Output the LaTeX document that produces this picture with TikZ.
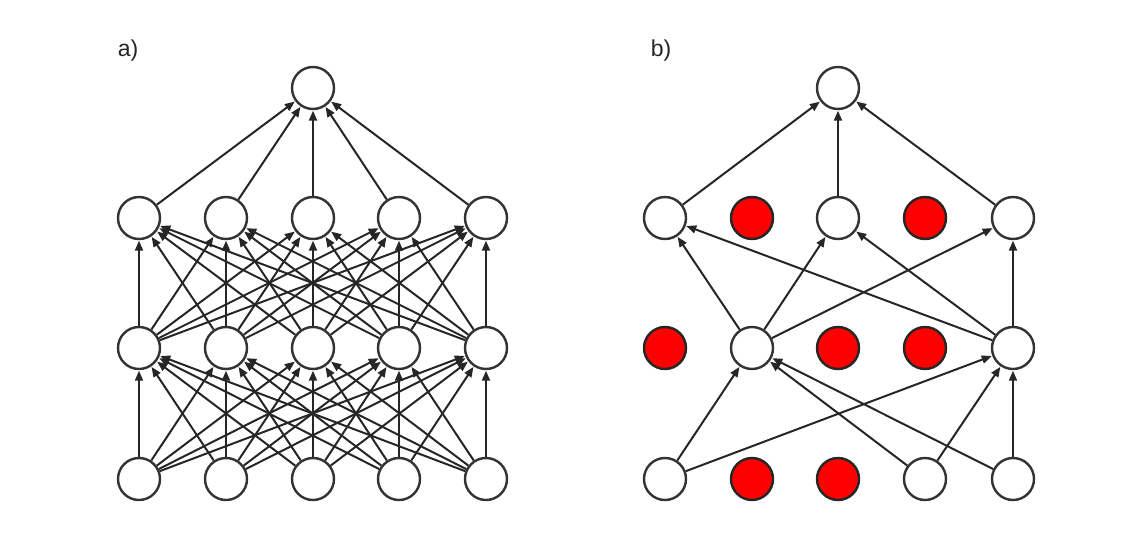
\documentclass[tikz,border=0pt]{standalone}
\usepackage{fontspec}
\setmainfont{Liberation Sans}
\usetikzlibrary{arrows.meta}
\begin{document}
\begin{tikzpicture}[x=1pt,y=-1pt,
  neuron/.style={circle,draw=black!80,line width=2.4pt,fill=white,minimum size=42pt,inner sep=0pt},
  dropped/.style={neuron,fill=red,draw=black!85},
  conn/.style={line width=2pt,draw=black!85,-{Triangle[length=10pt,width=8pt]},shorten >=0.5pt},
  lbl/.style={font=\fontsize{23}{27}\selectfont,text=black!85}]
\useasboundingbox (0,0) rectangle (1133,552);
% panel a
\node[lbl] (la) at (128,51) {a)};
\node[neuron] (ao) at (313,88) {};
\foreach \i/\x in {1/139,2/226,3/313,4/399,5/486}{
  \node[neuron] (ah\i) at (\x,218) {};
  \node[neuron] (ag\i) at (\x,348) {};
  \node[neuron] (ai\i) at (\x,479) {};
}
\foreach \i in {1,...,5}{
  \draw[conn] (ah\i) -- (ao);
  \foreach \j in {1,...,5}{
    \draw[conn] (ag\j) -- (ah\i);
    \draw[conn] (ai\j) -- (ag\i);
  }
}
% panel b
\node[lbl] (lb) at (661,51) {b)};
\node[neuron] (bo) at (838,88) {};
\node[neuron] (bh1) at (665,218) {};
\node[dropped] (bh2) at (752,218) {};
\node[neuron] (bh3) at (838,218) {};
\node[dropped] (bh4) at (925,218) {};
\node[neuron] (bh5) at (1013,218) {};
\node[dropped] (bg1) at (665,348) {};
\node[neuron] (bg2) at (752,348) {};
\node[dropped] (bg3) at (838,348) {};
\node[dropped] (bg4) at (925,348) {};
\node[neuron] (bg5) at (1013,348) {};
\node[neuron] (bi1) at (665,479) {};
\node[dropped] (bi2) at (752,479) {};
\node[dropped] (bi3) at (838,479) {};
\node[neuron] (bi4) at (925,479) {};
\node[neuron] (bi5) at (1013,479) {};
\foreach \h in {1,3,5}{\draw[conn] (bh\h) -- (bo);}
\foreach \g in {2,5}{
  \foreach \h in {1,3,5}{\draw[conn] (bg\g) -- (bh\h);}
  \foreach \k in {1,4,5}{\draw[conn] (bi\k) -- (bg\g);}
}
\end{tikzpicture}
\end{document}
